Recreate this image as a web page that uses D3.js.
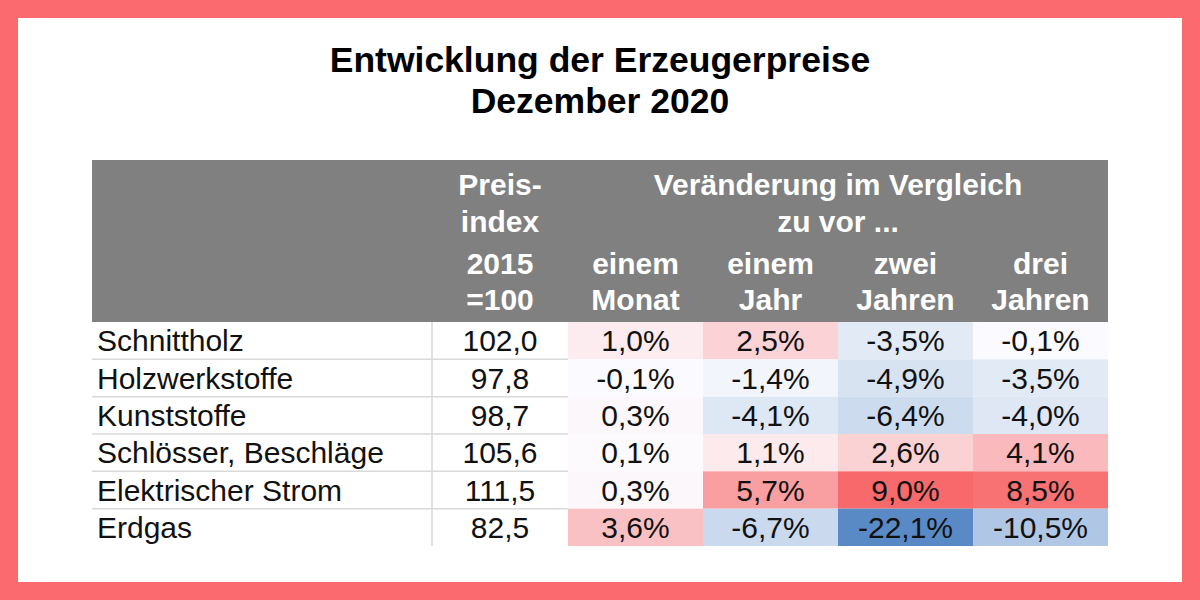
<!DOCTYPE html>
<html>
<head>
<meta charset="utf-8">
<script src="https://cdn.jsdelivr.net/npm/d3@7"></script>
<style>
  body { margin: 0; background: #fff; }
  svg { display: block; font-family: "Liberation Sans", Arial, sans-serif; }
</style>
</head>
<body>
<svg id="chart" width="1200" height="600"></svg>
<script>
// data
const categories = ["Schnittholz", "Holzwerkstoffe", "Kunststoffe", "Schlösser, Beschläge", "Elektrischer Strom", "Erdgas"];
const preisindex = [102.0, 97.8, 98.7, 105.6, 111.5, 82.5];
const einemMonat = [1.0, -0.1, 0.3, 0.1, 0.3, 3.6];
const einemJahr = [2.5, -1.4, -4.1, 1.1, 5.7, -6.7];
const zweiJahren = [-3.5, -4.9, -6.4, 2.6, 9.0, -22.1];
const dreiJahren = [-0.1, -3.5, -4.0, 4.1, 8.5, -10.5];
const changeKeys = ["monat", "jahr", "zwei", "drei"];
const changeHeads = [["einem", "Monat"], ["einem", "Jahr"], ["zwei", "Jahren"], ["drei", "Jahren"]];
const indexHead = ["Preis-", "index", "2015", "=100"];
const groupHead = ["Veränderung im Vergleich", "zu vor ..."];
const titleLines = ["Entwicklung der Erzeugerpreise", "Dezember 2020"];

const changes = [einemMonat, einemJahr, zweiJahren, dreiJahren];

const de = d3.formatLocale({ decimal: ",", thousands: ".", grouping: [3], currency: ["", " €"], minus: "-" });
const fmtIndex = de.format(".1f");
const fmtPct = v => de.format(".1f")(v) + "%";

const svg = d3.select("#chart");

// frame
svg.append("rect").attr("width", 1200).attr("height", 600).attr("fill", "#fa6a6f");
svg.append("rect").attr("x", 18).attr("y", 18).attr("width", 1164).attr("height", 564).attr("fill", "#fff");

// title
svg.selectAll(".title")
  .data(titleLines)
  .join("text")
  .attr("class", "title")
  .attr("x", 600)
  .attr("y", (d, i) => 72 + i * 41)
  .attr("text-anchor", "middle")
  .style("font-size", "35.5px")
  .style("font-weight", "bold")
  .attr("fill", "#000")
  .text(d => d);

// layout
const tableLeft = 92, labelRight = 432, indexRight = 568, tableRight = 1108;
const headTop = 160, headBottom = 322, tableBottom = 546;

const y = d3.scaleBand().domain(categories).range([headBottom, tableBottom]);
const x = d3.scaleBand().domain(changeKeys).range([indexRight, tableRight]);
const color = d3.scaleLinear()
  .domain([d3.min(changes.flat()), 0, d3.max(changes.flat())])
  .range(["#5a8ac6", "#fcfcff", "#f8696b"]);

// header
svg.append("rect")
  .attr("x", tableLeft).attr("y", headTop)
  .attr("width", tableRight - tableLeft).attr("height", headBottom - headTop)
  .attr("fill", "#808080");

const headLineY = [184, 221, 263, 299];
const head = svg.append("g")
  .attr("fill", "#fff")
  .attr("text-anchor", "middle")
  .style("font-size", "30px")
  .style("font-weight", "bold");

head.selectAll(".ih")
  .data(indexHead)
  .join("text")
  .attr("class", "ih")
  .attr("x", (labelRight + indexRight) / 2)
  .attr("y", (d, i) => headLineY[i])
  .attr("dy", "0.35em")
  .text(d => d);

head.selectAll(".gh")
  .data(groupHead)
  .join("text")
  .attr("class", "gh")
  .attr("x", (indexRight + tableRight) / 2)
  .attr("y", (d, i) => headLineY[i])
  .attr("dy", "0.35em")
  .text(d => d);

changeKeys.forEach((k, ci) => {
  head.selectAll(".ch" + ci)
    .data(changeHeads[ci])
    .join("text")
    .attr("x", x(k) + x.bandwidth() / 2)
    .attr("y", (d, i) => headLineY[i + 2])
    .attr("dy", "0.35em")
    .text(d => d);
});

// coloured cells
changeKeys.forEach((k, ci) => {
  svg.append("g")
    .selectAll("rect")
    .data(changes[ci])
    .join("rect")
    .attr("x", x(k))
    .attr("y", (d, i) => y(categories[i]))
    .attr("width", x.bandwidth())
    .attr("height", y.bandwidth())
    .attr("fill", d => color(d));
});

// grid lines in left part
svg.append("g")
  .selectAll("line")
  .data(categories.slice(1))
  .join("line")
  .attr("x1", tableLeft).attr("x2", indexRight)
  .attr("y1", d => y(d)).attr("y2", d => y(d))
  .attr("stroke", "#d9d9d9").attr("stroke-width", 1.5);

svg.append("line")
  .attr("x1", labelRight).attr("x2", labelRight)
  .attr("y1", headBottom).attr("y2", tableBottom)
  .attr("stroke", "#d9d9d9").attr("stroke-width", 1.5);

// body text
const body = svg.append("g")
  .attr("fill", "#111")
  .style("font-size", "30px");

body.selectAll(".lab")
  .data(categories)
  .join("text")
  .attr("class", "lab")
  .attr("x", tableLeft + 5)
  .attr("y", d => y(d) + y.bandwidth() / 2)
  .attr("dy", "0.36em")
  .text(d => d);

body.selectAll(".idx")
  .data(preisindex)
  .join("text")
  .attr("class", "idx")
  .attr("x", (labelRight + indexRight) / 2)
  .attr("y", (d, i) => y(categories[i]) + y.bandwidth() / 2)
  .attr("dy", "0.36em")
  .attr("text-anchor", "middle")
  .text(d => fmtIndex(d));

changeKeys.forEach((k, ci) => {
  body.append("g")
    .selectAll("text")
    .data(changes[ci])
    .join("text")
    .attr("x", x(k) + x.bandwidth() / 2)
    .attr("y", (d, i) => y(categories[i]) + y.bandwidth() / 2)
    .attr("dy", "0.36em")
    .attr("text-anchor", "middle")
    .text(d => fmtPct(d));
});
</script>
</body>
</html>
